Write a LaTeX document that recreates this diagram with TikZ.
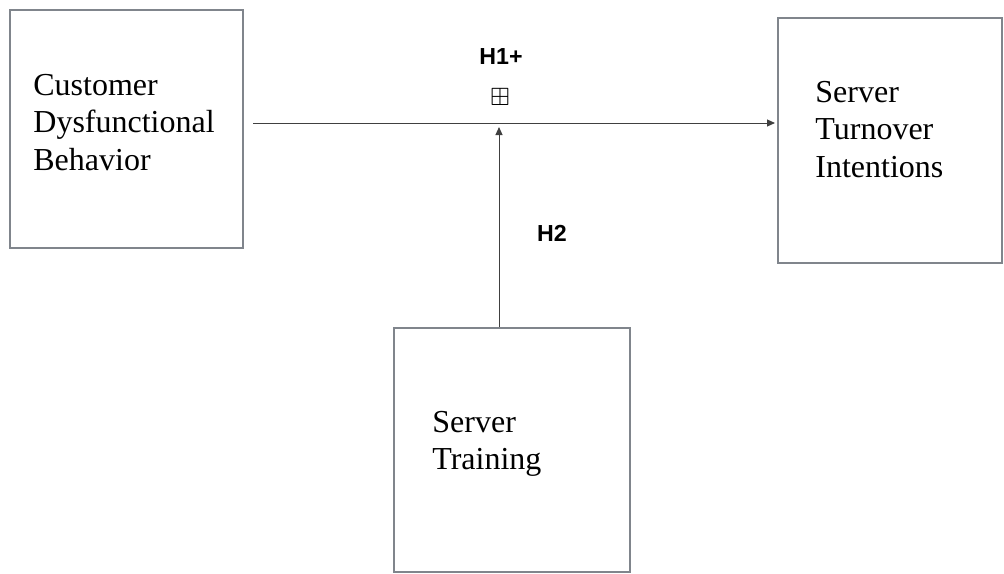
\documentclass[tikz,border=0pt]{standalone}
\usepackage{amssymb}
\usepackage{fontspec}
\setmainfont{Liberation Serif}
\newfontfamily\hypfont{Liberation Sans}
\usetikzlibrary{arrows.meta}
\definecolor{boxgray}{RGB}{128,133,140}

\begin{document}
\begin{tikzpicture}[x=0.5pt,y=-0.5pt,
    varbox/.style={draw=boxgray,line width=1pt,rectangle,inner sep=0pt},
    vartext/.style={anchor=north west,align=left,inner sep=0pt,font=\fontsize{16}{18.7}\selectfont},
    hyp/.style={font=\hypfont\bfseries\fontsize{11.6}{13}\selectfont},
    link/.style={line width=0.5pt,draw=black!75,-{Triangle[length=4pt,width=3.5pt]}}]
    \useasboundingbox (0,0) rectangle (1004,573);

    % Variables
    \node[varbox,minimum width=116.5pt,minimum height=119pt] (cdb) at (126.5,129) {};
    \node[varbox,minimum width=112pt,minimum height=122.5pt] (sti) at (890,140.5) {};
    \node[varbox,minimum width=118pt,minimum height=122pt] (st) at (512,450) {};

    \node[vartext] (cdbtext) at (33,74) {Customer\\Dysfunctional\\Behavior};
    \node[vartext] (stitext) at (815,81) {Server\\Turnover\\Intentions};
    \node[vartext] (sttext) at (432,411) {Server\\Training};

    % Moderation point on the main path
    \coordinate (mod) at (499,123);

    % Paths
    \draw[link,shorten <=4.5pt,shorten >=1pt] (cdb.east |- mod) -- (sti.west |- mod);
    \draw[link] (st.north -| mod) -- ([yshift=-2pt]mod);

    % Hypotheses
    \node[hyp] (h1) at (501,57) {H1+};
    \node[font=\fontsize{12.5}{14}\selectfont,inner sep=0pt] (plus) at (500,97) {$\boxplus$};
    \node[hyp] (h2) at (552,233) {H2};
\end{tikzpicture}
\end{document}
